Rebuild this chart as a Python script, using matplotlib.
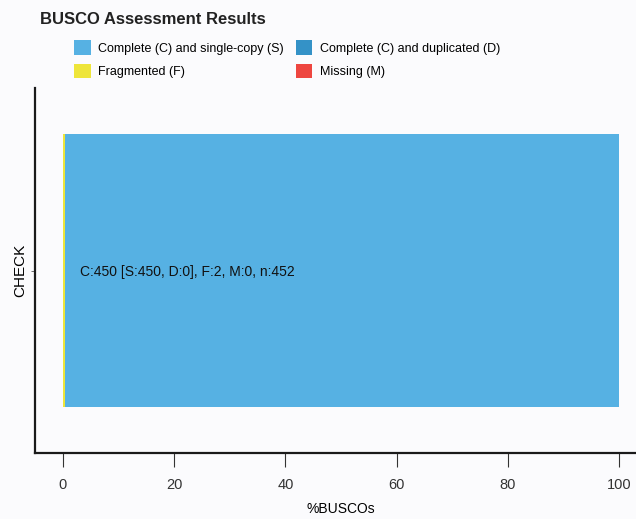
import matplotlib.pyplot as plt
from matplotlib.patches import Patch

plt.rcParams['font.family'] = ['Liberation Sans', 'DejaVu Sans']

species = ["CHECK"]
categories = ["Complete (C) and single-copy (S)", "Complete (C) and duplicated (D)",
              "Fragmented (F)", "Missing (M)"]
colors = ["#56B1E3", "#3492C7", "#EEE53A", "#EE4640"]
counts_S = [450]
counts_D = [0]
counts_F = [2]
counts_M = [0]
total = 452
label = "C:450 [S:450, D:0], F:2, M:0, n:452"

pct = lambda v: [x / total * 100 for x in v]

fig = plt.figure(figsize=(6.36, 5.19), dpi=100, facecolor="#fbfbfd")
ax = fig.add_axes([35/636, 1-453/519, 612/636, 365/519], facecolor="#fbfbfd")

# stacking order as in the reference: F, then S, then D, then M
left = [0.0]
for vals, col in [(pct(counts_F), colors[2]), (pct(counts_S), colors[0]),
                  (pct(counts_D), colors[1]), (pct(counts_M), colors[3])]:
    ax.barh([0], vals, left=left, height=0.9, color=col, edgecolor="none")
    left = [left[0] + vals[0]]

ax.text(3, -0.005, label, va="center", ha="left", fontsize=10, color="#111111")

ax.set_xlim(-5, 105)
ax.set_ylim(-0.6, 0.6)
ax.set_xticks([0, 20, 40, 60, 80, 100])
ax.set_yticks([0])
ax.set_yticklabels([""])
ax.set_ylabel(species[0], fontsize=11, labelpad=-1)
ax.set_xlabel("%BUSCOs", fontsize=10, labelpad=7)
for s in ["top", "right"]:
    ax.spines[s].set_visible(False)
for s in ["left", "bottom"]:
    ax.spines[s].set_linewidth(1.6)
    ax.spines[s].set_color("#1a1a1a")
ax.tick_params(axis="x", length=10, width=0.8, colors="#333333", labelsize=10.5, pad=8)
ax.tick_params(axis="y", length=3, width=0.6, colors="#555555")

fig.text(40/636, 1-19/519, "BUSCO Assessment Results", fontsize=12, fontweight="bold",
         va="center", ha="left", color="#222222")

handles = [Patch(facecolor=c, edgecolor="none") for c in colors]
order = [0, 2, 1, 3]
leg = fig.legend([handles[i] for i in order], [categories[i] for i in order], ncol=2,
                 loc="upper left", bbox_to_anchor=(63/636, 1-29/519), frameon=False,
                 fontsize=9, handlelength=1.3, handleheight=1.45, columnspacing=0.95,
                 handletextpad=0.64, labelspacing=0.68)

fig.savefig("out.png", dpi=100, facecolor=fig.get_facecolor())
